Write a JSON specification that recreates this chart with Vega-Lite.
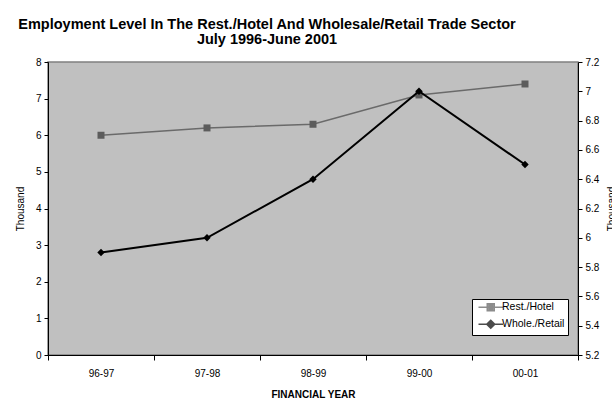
{
  "$schema": "https://vega.github.io/schema/vega-lite/v6.json",
  "width": 530,
  "height": 293,
  "autosize": {"type": "none"},
  "padding": {"left": 48, "top": 62, "right": 34, "bottom": 52},
  "background": "white",
  "title": {
    "text": ["Employment Level In The Rest./Hotel And Wholesale/Retail Trade Sector", "July 1996-June 2001"],
    "font": "Liberation Sans",
    "fontSize": 14.5,
    "fontWeight": "bold",
    "lineHeight": 15,
    "anchor": "middle",
    "dx": -46,
    "offset": 10,
    "color": "black"
  },
  "config": {
    "view": {"fill": "#c0c0c0", "stroke": "#808080", "strokeWidth": 1.5},
    "axis": {
      "labelFont": "Liberation Sans",
      "titleFont": "Liberation Sans",
      "labelFontSize": 10,
      "titleFontSize": 10,
      "labelColor": "black",
      "titleColor": "black",
      "domainColor": "black",
      "tickColor": "black",
      "domainWidth": 1,
      "tickWidth": 1,
      "grid": false
    },
    "legend": {"labelFont": "Liberation Sans"}
  },
  "data": {
    "values": [
      {"year": "96-97", "series": "Rest./Hotel", "value": 6.0},
      {"year": "97-98", "series": "Rest./Hotel", "value": 6.2},
      {"year": "98-99", "series": "Rest./Hotel", "value": 6.3},
      {"year": "99-00", "series": "Rest./Hotel", "value": 7.1},
      {"year": "00-01", "series": "Rest./Hotel", "value": 7.4},
      {"year": "96-97", "series": "Whole./Retail", "value": 5.9},
      {"year": "97-98", "series": "Whole./Retail", "value": 6.0},
      {"year": "98-99", "series": "Whole./Retail", "value": 6.4},
      {"year": "99-00", "series": "Whole./Retail", "value": 7.0},
      {"year": "00-01", "series": "Whole./Retail", "value": 6.5}
    ]
  },
  "encoding": {
    "x": {
      "field": "year",
      "type": "ordinal",
      "sort": ["96-97", "97-98", "98-99", "99-00", "00-01"],
      "scale": {"type": "band", "paddingInner": 0, "paddingOuter": 0},
      "axis": {
        "title": "FINANCIAL YEAR",
        "titleFontWeight": "bold",
        "labelAngle": 0,
        "tickBand": "extent",
        "tickSize": 5,
        "labelPadding": 8,
        "titlePadding": 11
      }
    }
  },
  "layer": [
    {
      "transform": [{"filter": "datum.series === 'Rest./Hotel'"}],
      "encoding": {
        "y": {
          "field": "value",
          "type": "quantitative",
          "scale": {"domain": [0, 8], "nice": false, "zero": false},
          "axis": {
            "orient": "left",
            "title": "Thousand",
            "titleFontWeight": "normal",
            "values": [0, 1, 2, 3, 4, 5, 6, 7, 8],
            "format": "d",
            "tickSize": 4,
            "labelPadding": 3,
            "titlePadding": 10
          }
        }
      },
      "layer": [
        {"mark": {"type": "line", "color": "#6a6a6a", "strokeWidth": 1.5}},
        {"mark": {"type": "point", "shape": "square", "filled": true, "color": "#5c5c5c", "size": 49, "opacity": 1}}
      ]
    },
    {
      "transform": [{"filter": "datum.series === 'Whole./Retail'"}],
      "encoding": {
        "y": {
          "field": "value",
          "type": "quantitative",
          "scale": {"domain": [5.2, 7.2], "nice": false, "zero": false},
          "axis": {
            "orient": "right",
            "title": "Thousand",
            "titleFontWeight": "normal",
            "titleAngle": 270,
            "values": [5.2, 5.4, 5.6, 5.8, 6, 6.2, 6.4, 6.6, 6.8, 7, 7.2],
            "format": "~g",
            "tickSize": 4,
            "labelPadding": 3,
            "titlePadding": 18
          }
        }
      },
      "layer": [
        {"mark": {"type": "line", "color": "#000000", "strokeWidth": 2}},
        {"mark": {"type": "point", "shape": "diamond", "filled": true, "color": "#000000", "size": 55, "opacity": 1}}
      ]
    },
    {
      "transform": [{"filter": "false"}],
      "mark": {"type": "point", "filled": false},
      "encoding": {
        "color": {
          "field": "series",
          "type": "nominal",
          "scale": {"domain": ["Rest./Hotel", "Whole./Retail"], "range": ["#5c5c5c", "#000000"]},
          "legend": {
            "title": null,
            "orient": "none",
            "legendX": 424,
            "legendY": 237,
            "fillColor": "white",
            "strokeColor": "black",
            "padding": 3,
            "labelFontSize": 10.5,
            "labelColor": "black",
            "symbolSize": 49,
            "symbolStrokeWidth": 1.5,
            "symbolOffset": 10.5,
            "labelOffset": 6,
            "rowPadding": 3
          }
        },
        "shape": {
          "field": "series",
          "type": "nominal",
          "scale": {
            "domain": ["Rest./Hotel", "Whole./Retail"],
            "range": [
              "M-3.5,0H3.5M-1,-1H1V1H-1ZM-0.55,-0.55H0.55V0.55H-0.55ZM-0.2,-0.2H0.2V0.2H-0.2Z",
              "M-3.5,0H3.5M0,-1.15L1.15,0L0,1.15L-1.15,0ZM0,-0.65L0.65,0L0,0.65L-0.65,0ZM0,-0.25L0.25,0L0,0.25L-0.25,0Z"
            ]
          },
          "legend": {
            "title": null,
            "orient": "none",
            "legendX": 424,
            "legendY": 237,
            "fillColor": "white",
            "strokeColor": "black",
            "padding": 3,
            "labelFontSize": 10.5,
            "labelColor": "black",
            "symbolSize": 49,
            "symbolStrokeWidth": 1.5,
            "symbolOffset": 10.5,
            "labelOffset": 6,
            "rowPadding": 3
          }
        }
      }
    }
  ],
  "resolve": {"scale": {"y": "independent"}}
}
